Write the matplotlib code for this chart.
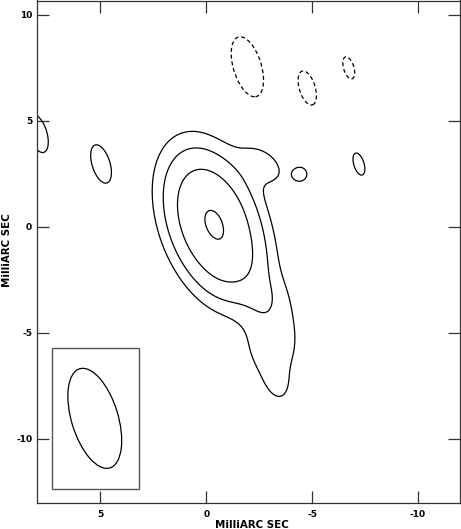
import numpy as np
import matplotlib
matplotlib.use("Agg")
import matplotlib.pyplot as plt
from matplotlib.patches import Ellipse, Rectangle

# ---- map model: Gaussian components (mas; amplitude in units of lowest contour)
#              core   J0     J1     J4     J2     J3     B      neg1   neg2    neg3    p1     p2     p3     p4
comp_x     = [-0.35, -1.6,  -2.75, -3.8,  -2.95, -3.35, -2.8,  -1.94, -4.77,  -6.73,  4.98,  7.95,  -4.45, -7.21]
comp_y     = [0.15,  -1.8,  -3.45, -4.6,  -5.9,  -7.4,  2.95,  7.55,  6.55,   7.5,    2.97,  4.4,   2.49,  2.96]
comp_amp   = [8.35,  0.7,   1.0,   0.7,   1.25,  1.1,   1.2,   -2.71, -1.378, -1.144, 1.49,  1.49,  1.5,   1.144]
comp_major = [2.2,   0.9,   0.9,   1.4,   1.1,   0.75,  1.0,   1.04,  1.04,   1.04,   1.04,  1.04,  0.3,   1.04]
comp_minor = [1.27,  0.9,   0.7,   0.75,  0.9,   0.45,  0.6,   0.467, 0.467,  0.467,  0.467, 0.467, 0.3,   0.467]
comp_pa    = [20,    0,     0,     0,     15,    15,    50,    17,    17,     17,     17,    17,    0,     17]

pos_levels = [1, 2, 4, 8]
neg_levels = [-1]

# restoring beam (FWHM, mas) and its box
beam_x, beam_y = 5.27, -9.04
beam_major, beam_minor, beam_pa = 4.89, 2.2, 17
box_x = [7.31, 3.19]
box_y = [-12.39, -5.70]

xticks = [5, 0, -5, -10]
yticks = [10, 5, 0, -5, -10]
xlabel = "MilliARC SEC"
ylabel = "MilliARC SEC"

# ---- evaluate map
gx = np.arange(-12.5, 8.5, 0.02)
gy = np.arange(-13.5, 11.0, 0.02)
X, Y = np.meshgrid(gx, gy)
Z = np.zeros_like(X)
for x0, y0, a, sa, sb, pa in zip(comp_x, comp_y, comp_amp, comp_major, comp_minor, comp_pa):
    t = np.deg2rad(pa)
    dx, dy = X - x0, Y - y0
    along = dx * np.sin(t) + dy * np.cos(t)
    across = dx * np.cos(t) - dy * np.sin(t)
    Z += a * np.exp(-0.5 * ((along / sa) ** 2 + (across / sb) ** 2))

plt.rcParams['font.family'] = ['DejaVu Sans']
fig = plt.figure(figsize=(4.61, 5.29), dpi=100)
ax = fig.add_axes([37 / 461, 25.7 / 529, 423.3 / 461, 502.8 / 529])

ax.contour(X, Y, Z, levels=pos_levels, colors='black', linewidths=0.9)
cn = ax.contour(X, Y, Z, levels=neg_levels, colors='black', linewidths=0.9)
cn.set_linestyle((0, (3.2, 2.2)))

ax.add_patch(Ellipse((beam_x, beam_y), beam_major, beam_minor, angle=90 - beam_pa,
                     fill=False, edgecolor='black', linewidth=0.9))
ax.add_patch(Rectangle((box_x[1], box_y[0]), box_x[0] - box_x[1], box_y[1] - box_y[0],
                       fill=False, edgecolor='#555555', linewidth=1.0))

ax.set_xlim(8, -12)
ax.set_ylim(-13.05, 10.68)
ax.set_xticks(xticks)
ax.set_yticks(yticks)
ax.set_xticklabels([str(v) for v in xticks], fontweight='bold', fontsize=6.5)
ax.set_yticklabels([str(v) for v in yticks], fontweight='bold', fontsize=6.5)
ax.tick_params(direction='in', length=8.5, width=0.9, color='#333333',
               top=True, right=True)
ax.tick_params(axis='x', pad=4.5)
ax.tick_params(axis='y', pad=3.5)
for s in ax.spines.values():
    s.set_color('#333333')
    s.set_linewidth(0.9)
fig.text(251.5 / 461, 1 - 525 / 529, xlabel, fontweight='bold', fontsize=7.4,
         ha='center', va='center')
fig.text(7 / 461, 1 - 250 / 529, ylabel, fontweight='bold', fontsize=7.4,
         ha='center', va='center', rotation=90)

fig.savefig("out.png", dpi=100)
